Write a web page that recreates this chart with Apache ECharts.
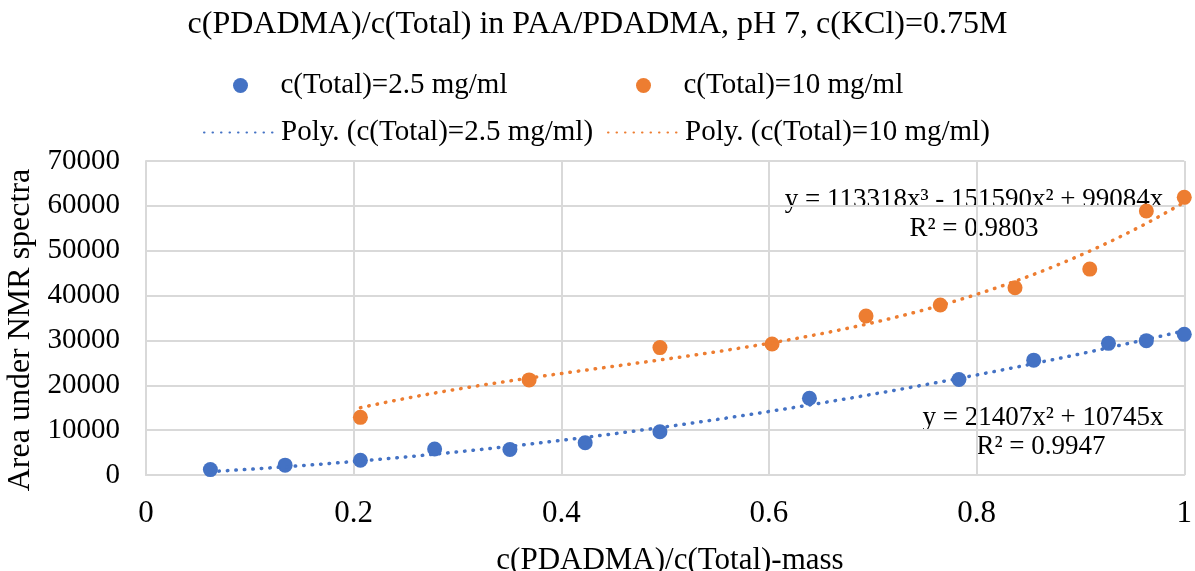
<!DOCTYPE html>
<html>
<head>
<meta charset="utf-8">
<script src="https://cdn.jsdelivr.net/npm/echarts@6/dist/echarts.min.js"></script>
<style>
  html, body { margin: 0; padding: 0; background: #fff; }
  #chart { width: 1195px; height: 571px; }
</style>
</head>
<body>
<div id="chart"></div>
<script>
// c(Total)=2.5 mg/ml
var blueX = [0.062, 0.134, 0.2065, 0.278, 0.3505, 0.423, 0.495, 0.639, 0.783, 0.855, 0.927, 0.9635, 1.0];
var blueY = [1200, 2200, 3300, 5800, 5700, 7200, 9650, 17100, 21300, 25600, 29350, 29950, 31350];
// c(Total)=10 mg/ml
var orangeX = [0.2065, 0.369, 0.495, 0.603, 0.6935, 0.765, 0.837, 0.909, 0.9635, 1.0];
var orangeY = [12850, 21200, 28400, 29200, 35450, 37900, 41750, 45900, 58850, 61900];
// trendline coefficients, highest power first (intercept 0)
var blueCoef = [21407, 10745, 0];
var orangeCoef = [113318, -151590, 99084, 0];
var xTicks = ['0', '0.2', '0.4', '0.6', '0.8', '1'];

var FONT = '"Liberation Serif", "Times New Roman", serif';
var BLUE = '#4472C4', ORANGE = '#ED7D31';

function polyLine(coef, xs) {
    var lo = Math.min.apply(null, xs), hi = Math.max.apply(null, xs), pts = [];
    for (var i = 0; i <= 100; i++) {
        var x = lo + (hi - lo) * i / 100, y = 0;
        for (var k = 0; k < coef.length; k++) y = y * x + coef[k];
        pts.push([x, y]);
    }
    return pts;
}
function pairs(xs, ys) {
    return xs.map(function (x, i) { return [x, ys[i]]; });
}
function label(text, x, y, size, rot) {
    return { type: 'text', x: x, y: y, rotation: rot || 0,
             style: { text: text, align: 'center', verticalAlign: 'middle',
                      font: size + 'px ' + FONT, fill: '#000' } };
}

var chart = echarts.init(document.getElementById('chart'));
var legendText = { fontFamily: FONT, fontSize: 29, color: '#000' };
var dotted = { type: [0.5, 8], width: 3.5, cap: 'round' };

chart.setOption({
    animation: false,
    title: {
        text: 'c(PDADMA)/c(Total) in PAA/PDADMA, pH 7, c(KCl)=0.75M',
        left: 'center', top: 4,
        textStyle: { fontFamily: FONT, fontSize: 32, fontWeight: 'normal', color: '#000' }
    },
    legend: [
        { data: [{ name: 'c(Total)=2.5 mg/ml', icon: 'circle' }], left: 233, top: 71, padding: 0,
          itemWidth: 70, itemHeight: 15, textStyle: legendText },
        { data: [{ name: 'c(Total)=10 mg/ml', icon: 'circle' }], left: 636, top: 71, padding: 0,
          itemWidth: 70, itemHeight: 15, textStyle: legendText },
        { data: ['Poly. (c(Total)=2.5 mg/ml)'], left: 203, top: 118, padding: 0,
          itemWidth: 72, itemHeight: 14, textStyle: legendText, itemStyle: { opacity: 0 } },
        { data: ['Poly. (c(Total)=10 mg/ml)'], left: 607, top: 118, padding: 0,
          itemWidth: 72, itemHeight: 14, textStyle: legendText, itemStyle: { opacity: 0 } }
    ],
    grid: { left: 146, right: 8, top: 161, bottom: 96 },
    xAxis: {
        type: 'value', min: 0, max: 1, interval: 0.2,
        axisLine: { lineStyle: { color: '#d9d9d9', width: 2 } },
        axisTick: { show: false },
        splitLine: { show: true, lineStyle: { color: '#d9d9d9', width: 2 } },
        axisLabel: {
            margin: 23, fontFamily: FONT, fontSize: 31, color: '#000',
            formatter: function (v) { return xTicks[Math.round(v / 0.2)]; }
        }
    },
    yAxis: {
        type: 'value', min: 0, max: 70000, interval: 10000,
        axisLine: { show: true, lineStyle: { color: '#d9d9d9', width: 2 } },
        axisTick: { show: false },
        splitLine: { lineStyle: { color: '#d9d9d9', width: 2 } },
        axisLabel: { margin: 26, fontFamily: FONT, fontSize: 29, color: '#000',
                     formatter: function (v) { return String(v); } }
    },
    series: [
        { name: 'c(Total)=2.5 mg/ml', type: 'scatter', symbolSize: 15, z: 3,
          itemStyle: { color: BLUE, opacity: 1 }, data: pairs(blueX, blueY) },
        { name: 'c(Total)=10 mg/ml', type: 'scatter', symbolSize: 15, z: 3,
          itemStyle: { color: ORANGE, opacity: 1 }, data: pairs(orangeX, orangeY) },
        { name: 'Poly. (c(Total)=2.5 mg/ml)', type: 'line', showSymbol: false, symbol: 'none', z: 4,
          color: BLUE, lineStyle: Object.assign({ color: BLUE }, dotted), data: polyLine(blueCoef, blueX) },
        { name: 'Poly. (c(Total)=10 mg/ml)', type: 'line', showSymbol: false, symbol: 'none', z: 4,
          color: ORANGE, lineStyle: Object.assign({ color: ORANGE }, dotted), data: polyLine(orangeCoef, orangeX) }
    ],
    graphic: [
        label('Area under NMR spectra', 21, 330, 32, Math.PI / 2),
        label('c(PDADMA)/c(Total)-mass', 670, 561, 31),
        label('y = 113318x³ - 151590x² + 99084x', 974, 200, 27),
        label('R² = 0.9803', 974, 229, 27),
        label('y = 21407x² + 10745x', 1043, 418, 27),
        label('R² = 0.9947', 1041, 447, 27)
    ]
});
</script>
</body>
</html>
